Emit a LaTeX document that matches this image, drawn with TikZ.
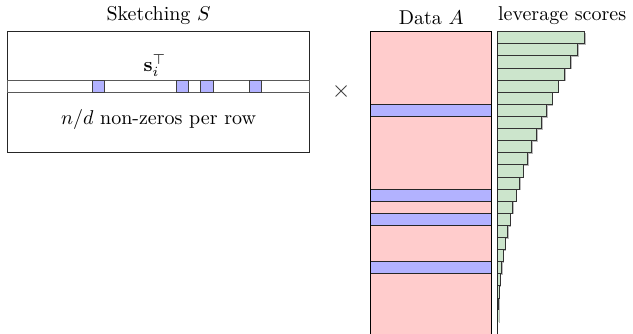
\documentclass[tikz,border=0pt]{standalone}
\usepackage{amsmath,amssymb}
\usepackage{tikz}
\usetikzlibrary{shadows}

\tikzset{
  nzcell/.style={draw=black!75,fill=blue!30},
  levbar/.style={draw=black!80,fill=green!50!black!20,
    drop shadow={shadow xshift=0.6pt,shadow yshift=-0.6pt,opacity=0.55}},
}

\begin{document}
\begin{tikzpicture}[x=6.05pt,y=-6.05pt]
  \clip (0,0) rectangle (52.31,27.52);%
  % sketching matrix S, one row s_i with n/d non-zeros
  \coordinate (S) at (0.6,2.62);%
  \draw[black!85] (S) rectangle ++(25,10);%
  \draw[black!65] (0.6,6.62) coordinate (row) rectangle ++(25,1);%
  \foreach \c in {7,14,16,20}
    \draw[nzcell] (0.6+\c,6.62) rectangle ++(1,1);%
  \node (Slabel) at (S -| 13.1,0) [above] {Sketching $S$};%
  \node (rowlabel) at (12.8,6.62) [above,inner sep=1.5pt] {$\mathbf{s}_i^\top$};%
  \node (nnz) at (13.1,9.85) {$n/d$ non-zeros per row};%
  \node (times) at (28.2,7.6) [text=black!80] {\large$\times$};%

  % data matrix A, sampled rows in blue
  \coordinate (A) at (30.64,2.62);%
  \fill[red!20] (A) rectangle ++(10,25);%
  \foreach \r in {6,13,15,19}
    \draw[nzcell,draw=black!85] (30.64,2.62+\r) rectangle ++(10,1);%
  \draw (A) rectangle ++(10,25);%
  \node (Alabel) at (35.64,2.62) [above] {Data $A$};%

  % leverage scores, decreasing
  \coordinate (L) at (41.13,2.62);%
  \foreach \k in {0,...,23} {%
    \pgfmathsetmacro\w{7.19*((24-\k)/24)^2}%
    \draw[levbar] (41.13,2.62+\k) rectangle ++(\w,1);%
  }
  \draw[black!85] (L) -- ++(0,25);%
  \node (Llabel) at (L) [anchor=south west,inner xsep=0pt] {leverage scores};%
\end{tikzpicture}
\end{document}
